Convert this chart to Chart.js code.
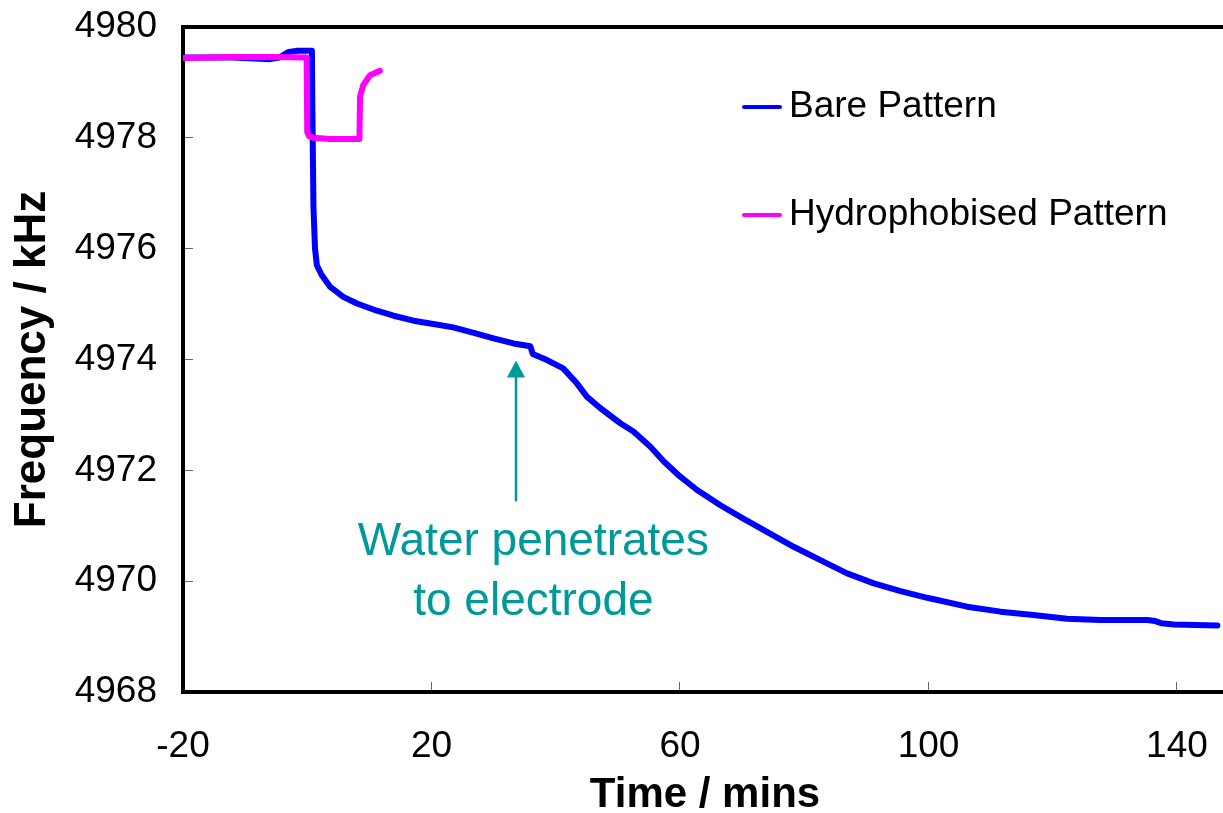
<!DOCTYPE html>
<html>
<head>
<meta charset="utf-8">
<title>Frequency vs Time</title>
<script src="https://cdn.jsdelivr.net/npm/chart.js@4"></script>
<style>
  html, body { margin: 0; padding: 0; background: #fff; overflow: hidden; }
  #wrap { width: 1223px; height: 813px; overflow: hidden; }
  canvas { display: block; }
</style>
</head>
<body>
<div id="wrap"><canvas id="freqChart" width="1227" height="813"></canvas></div>
<script>
// valori
var bareTime = [-20, -12, -6, -4.5, -3, -1.5, 0.75, 0.82, 1.0, 1.25, 1.55, 2.3, 3.7, 5.8, 8.0, 11.2, 13.9, 17.1, 20.3, 23.5,
  26.8, 30.0, 33.2, 35.9, 36.3, 38.6, 41.2, 43.4, 45.0, 47.2, 50.4, 52.5, 55.2, 57.4, 60.0, 62.7, 66.5, 70.2, 74.0, 78.3,
  82.6, 86.9, 91.2, 95.5, 99.8, 106.2, 111.6, 116.9, 122.3, 127.7, 135.2, 136.5, 137.5, 139.5, 146.5];
var bareFreq = [4979.45, 4979.45, 4979.42, 4979.45, 4979.55, 4979.57, 4979.57, 4978.6, 4976.75, 4976.0, 4975.70, 4975.53, 4975.31, 4975.13, 4975.01, 4974.88, 4974.79, 4974.70, 4974.64, 4974.58,
  4974.48, 4974.38, 4974.29, 4974.24, 4974.10, 4973.99, 4973.84, 4973.57, 4973.33, 4973.12, 4972.85, 4972.70, 4972.43, 4972.16, 4971.89, 4971.65, 4971.37, 4971.13, 4970.89, 4970.62,
  4970.38, 4970.14, 4969.96, 4969.82, 4969.70, 4969.54, 4969.45, 4969.39, 4969.32, 4969.30, 4969.30, 4969.28, 4969.24, 4969.22, 4969.20];

var hydroTime = [-20, -12, -6, -0.1, 0.0, 0.3, 1.0, 3.7, 8.4, 8.5, 9.0, 10.1, 11.7];
var hydroFreq = [4979.44, 4979.46, 4979.46, 4979.45, 4978.1, 4978.03, 4978.0, 4977.98, 4977.98, 4978.74, 4978.95, 4979.13, 4979.21];

var seriesNames = ["Bare Pattern", "Hydrophobised Pattern"];
var seriesColors = ["#0000FF", "#FF00FF"];

var xTicks = [-20, 20, 60, 100, 140];
var yTicks = [4968, 4970, 4972, 4974, 4976, 4978, 4980];

var noteLines = ["Water penetrates", "to electrode"];
var noteArrow = { x: 33.6, from: 4971.44, to: 4973.98 };
var noteText = { x: 36.4, y: 4970.71, step: 1.09 };

var FONT = "Arial, 'Liberation Sans', sans-serif";
var TEAL = "#009999";

function toPoints(xs, ys){
  var out = [];
  for (var i = 0; i < xs.length; i++) {
    out.push({ x: xs[i], y: ys[i] });
  }
  return out;
}

// toglie i margini che chart.js aggiunge per le etichette
function noPadding(s){
  s.paddingTop = 0;
  s.paddingBottom = 0;
  s.paddingLeft = 0;
  s.paddingRight = 0;
}

// linea di bordo in alto + legenda dentro l'area del grafico
var legendPlugin = {
  id: "insideLegend",
  afterDraw: function(chart){
    var ctx = chart.ctx;
    var area = chart.chartArea;
    ctx.save();
    ctx.strokeStyle = "#000";
    ctx.lineWidth = 4;
    ctx.beginPath();
    ctx.moveTo(area.left - 2, area.top);
    ctx.lineTo(chart.width, area.top);
    ctx.stroke();

    var left = area.left + 560;
    var rows = [80, 188];
    ctx.font = "37px " + FONT;
    ctx.textBaseline = "middle";
    ctx.textAlign = "left";
    for (var i = 0; i < seriesNames.length; i++) {
      var y = area.top + rows[i];
      ctx.strokeStyle = seriesColors[i];
      ctx.lineWidth = 4;
      ctx.lineCap = "round";
      ctx.beginPath();
      ctx.moveTo(left + 1, y);
      ctx.lineTo(left + 37, y);
      ctx.stroke();
      ctx.fillStyle = "#000";
      ctx.fillText(seriesNames[i], left + 46, y);
    }
    ctx.restore();
  }
};

// freccia e testo dell'annotazione
var notePlugin = {
  id: "note",
  afterDatasetsDraw: function(chart){
    var ctx = chart.ctx;
    var xs = chart.scales.x;
    var ys = chart.scales.y;
    var ax = xs.getPixelForValue(noteArrow.x);
    var y0 = ys.getPixelForValue(noteArrow.from);
    var y1 = ys.getPixelForValue(noteArrow.to);
    ctx.save();
    ctx.strokeStyle = TEAL;
    ctx.fillStyle = TEAL;
    ctx.lineWidth = 2.5;
    ctx.beginPath();
    ctx.moveTo(ax, y0);
    ctx.lineTo(ax, y1 + 14);
    ctx.stroke();
    ctx.beginPath();
    ctx.moveTo(ax, y1);
    ctx.lineTo(ax - 9, y1 + 17);
    ctx.lineTo(ax + 9, y1 + 17);
    ctx.closePath();
    ctx.fill();

    ctx.font = "46px " + FONT;
    ctx.textAlign = "center";
    ctx.textBaseline = "middle";
    var tx = xs.getPixelForValue(noteText.x);
    for (var i = 0; i < noteLines.length; i++) {
      ctx.fillText(noteLines[i], tx, ys.getPixelForValue(noteText.y - i * noteText.step));
    }
    ctx.restore();
  }
};

function drawChart(){
  var ctx = document.getElementById("freqChart").getContext("2d");
  Chart.defaults.font.family = FONT;
  Chart.defaults.color = "#000";

  var chart = new Chart(ctx, {
    type: "scatter",
    data: {
      datasets: [{
          label: seriesNames[0],
          data: toPoints(bareTime, bareFreq),
          borderColor: seriesColors[0],
          backgroundColor: seriesColors[0],
          borderWidth: 6,
          showLine: true,
          pointRadius: 0,
          borderJoinStyle: "round",
          borderCapStyle: "round",
          order: 1
        },
        {
          label: seriesNames[1],
          data: toPoints(hydroTime, hydroFreq),
          borderColor: seriesColors[1],
          backgroundColor: seriesColors[1],
          borderWidth: 6,
          showLine: true,
          pointRadius: 0,
          borderJoinStyle: "round",
          borderCapStyle: "round",
          order: 0
        }
      ]
    },
    options: {
      responsive: false,
      animation: false,
      events: [],
      layout: { padding: { top: 27, right: 0, bottom: 0, left: 0 } },
      plugins: {
        legend: { display: false },
        tooltip: { enabled: false }
      },
      scales: {
        x: {
          type: "linear",
          position: "bottom",
          min: -20,
          max: 148.05,
          afterBuildTicks: function(s){ s.ticks = xTicks.map(function(v){ return { value: v }; }); },
          afterFit: function(s){ s.height = 121; noPadding(s); },
          ticks: {
            font: { size: 37 },
            padding: 43,
            maxRotation: 0,
            callback: function(v){ return String(v); }
          },
          grid: { drawOnChartArea: false, drawTicks: true, tickLength: -10, tickColor: "#666", tickWidth: 1 },
          border: { display: true, color: "#000", width: 4 },
          title: {
            display: true,
            text: "Time / mins",
            font: { size: 42, weight: "bold", lineHeight: 1 },
            padding: { top: 0, bottom: -3 }
          }
        },
        y: {
          type: "linear",
          position: "left",
          min: 4968,
          max: 4980,
          afterBuildTicks: function(s){ s.ticks = yTicks.map(function(v){ return { value: v }; }); },
          afterFit: function(s){ s.width = 183; noPadding(s); },
          ticks: {
            font: { size: 37 },
            padding: 36,
            callback: function(v){ return String(v); }
          },
          grid: { drawOnChartArea: false, drawTicks: true, tickLength: -10, tickColor: "#666", tickWidth: 1 },
          border: { display: true, color: "#000", width: 4 },
          title: {
            display: true,
            text: "Frequency / kHz",
            font: { size: 44, weight: "bold", lineHeight: 1 },
            padding: { top: 11, bottom: 0 }
          }
        }
      }
    },
    plugins: [notePlugin, legendPlugin]
  });
  return chart;
}

drawChart();
</script>
</body>
</html>
